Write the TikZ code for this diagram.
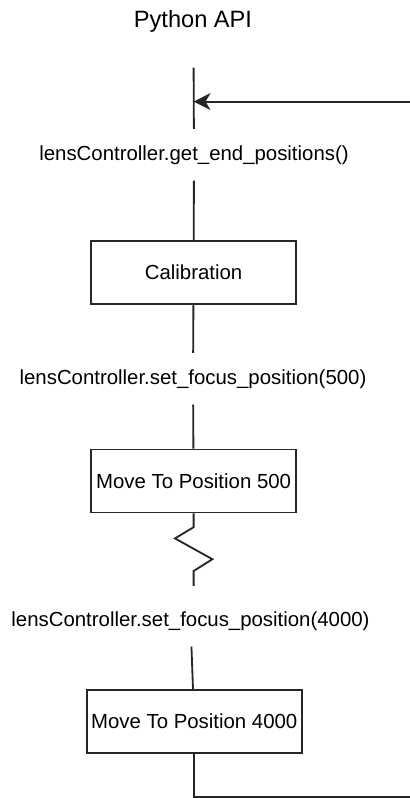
\documentclass[tikz,border=0pt]{standalone}
\usepackage{fontspec}
\setmainfont{Liberation Sans}
\usetikzlibrary{arrows.meta}

\tikzset{
  wire/.style={line width=1.3pt, draw=black!85},
  action/.style={draw=black!85, line width=1.3pt, minimum height=1.575cm, minimum width=5.125cm,
    inner sep=0pt, font=\fontsize{14.5}{17}\selectfont},
  call/.style={anchor=base, inner xsep=0pt, inner ysep=0.4cm, font=\fontsize{14.5}{17}\selectfont}
}

\begin{document}
\begin{tikzpicture}

\useasboundingbox (0,0) rectangle (10.25,-19.95);

% Title of the lifeline
\node[anchor=base, font=\fontsize{16.8}{19}\selectfont] (title) at (4.825,-0.69) {Python API};

% Top of the lifeline and the incoming return
\coordinate (top) at (4.84,-1.69);
\coordinate (hit) at (4.84,-2.54);
\coordinate (ret) at (10.25,-2.54);

% Calls and actions
\node[call] (getend) at (4.85,-4.0) {lensController.get\_end\_positions()};
\node[action] (calib) at (4.84,-6.8125) {Calibration};
\node[call] (setfive) at (4.825,-9.6) {lensController.set\_focus\_position(500)};
\node[action] (movefive) at (4.84,-12.025) {Move To Position 500};
\node[call] (setfour) at (4.7625,-15.65) {lensController.set\_focus\_position(4000)};
\node[action, minimum width=5.375cm] (movefour) at (4.855,-18.04) {Move To Position 4000};

% Break in the lifeline
\coordinate (z1) at (4.84,-13.18);
\coordinate (z2) at (4.375,-13.46);
\coordinate (z3) at (5.31,-13.98);
\coordinate (z4) at (4.84,-14.275);
\coordinate (z5) at (4.84,-14.65);

% Loop back to the start
\coordinate (back) at (10.25,-19.92);

% Lifeline segments
\draw[wire] (top) -- (getend);
\draw[wire, -{Stealth[length=12pt, width=12pt, inset=3.5pt]}] (ret) -- (hit);
\draw[wire] (getend) -- (calib);
\draw[wire] (calib) -- (setfive);
\draw[wire] (setfive) -- (movefive);
\draw[wire, line join=miter] (movefive) -- (z1) -- (z2) -- (z3) -- (z4) -- (z5);
\draw[wire] (setfour) -- (movefour);
\draw[wire] (movefour) |- (back);

\end{tikzpicture}
\end{document}
